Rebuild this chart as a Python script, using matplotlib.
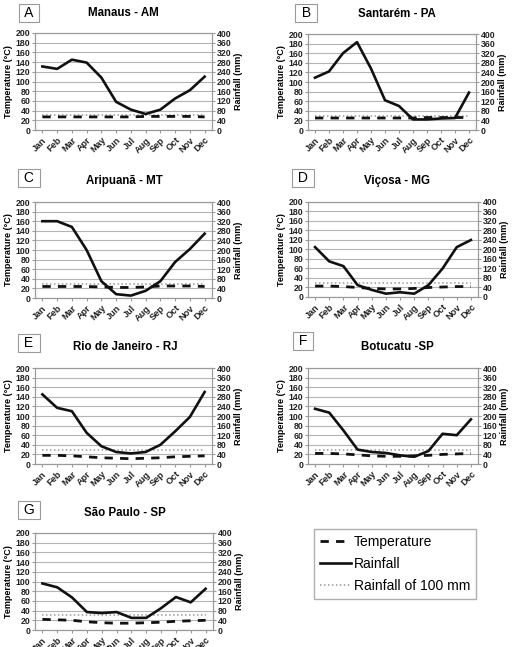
import numpy as np
import matplotlib
matplotlib.use('Agg')
import matplotlib.pyplot as plt

plt.rcParams['font.family'] = ['Liberation Sans', 'DejaVu Sans']

months = ['Jan', 'Feb', 'Mar', 'Apr', 'May', 'Jun', 'Jul', 'Aug', 'Sep', 'Oct', 'Nov', 'Dec']

letters = ['A', 'B', 'C', 'D', 'E', 'F', 'G']
titles = ['Manaus - AM', 'Santarém - PA', 'Aripuanã - MT', 'Viçosa - MG',
          'Rio de Janeiro - RJ', 'Botucatu -SP', 'São Paulo - SP']

# temperature (left axis units)
temp_manaus = [27, 27, 27, 27, 27, 27, 27, 28, 28, 28, 28, 27]
temp_santarem = [25, 25, 25, 25, 25, 25, 25, 25, 26, 26, 26, 26]
temp_aripuana = [24, 24, 24, 24, 23, 22, 22, 23, 25, 25, 25, 24]
temp_vicosa = [23, 23, 22, 20, 18, 17, 17, 18, 20, 21, 22, 22]
temp_rio = [18, 18, 17, 15, 13, 12, 11, 12, 13, 15, 16, 17]
temp_botucatu = [22, 22, 21, 19, 17, 16, 16, 17, 18, 20, 21, 22]
temp_saopaulo = [22, 21, 20, 17, 15, 14, 14, 15, 16, 18, 19, 20]

# rainfall (mm, right axis)
rain_manaus = [262, 252, 290, 278, 216, 116, 84, 66, 84, 130, 164, 220]
rain_santarem = [218, 244, 320, 366, 256, 124, 100, 44, 44, 48, 50, 156]
rain_aripuana = [320, 320, 296, 200, 70, 16, 10, 30, 70, 150, 204, 268]
rain_vicosa = [210, 150, 130, 50, 30, 14, 20, 14, 50, 120, 210, 240]
rain_rio = [290, 234, 220, 130, 74, 50, 44, 50, 80, 136, 196, 300]
rain_botucatu = [230, 214, 140, 60, 50, 46, 36, 30, 54, 126, 120, 186]
rain_saopaulo = [192, 176, 134, 74, 70, 74, 50, 50, 90, 136, 114, 170]

# dotted reference line ("Rainfall of 100 mm"), left axis units
ref_level = 30

temps = [temp_manaus, temp_santarem, temp_aripuana, temp_vicosa, temp_rio, temp_botucatu, temp_saopaulo]
rains = [rain_manaus, rain_santarem, rain_aripuana, rain_vicosa, rain_rio, rain_botucatu, rain_saopaulo]

W, H = 529, 647
# axes boxes in pixels: (x0, x1, ytop, ybottom)
boxes = [(35, 212, 33, 130), (308, 476, 34, 130),
         (35, 212, 202, 298), (308, 478, 202, 297),
         (35, 212, 368, 464), (308, 478, 368, 464),
         (35, 213, 533, 630)]
# centres of the letter boxes, pixels
letter_pos = [(29, 13), (306, 13), (29, 178), (303, 178), (29, 343), (303, 341), (29, 510)]
# title centres, pixels
title_pos = [(123, 13), (397, 14), (124, 181), (397, 181), (125, 347), (397, 347), (125, 513)]

grey = '#9a9a9a'
temp_style = (0, (3.0, 2.6))
ref_style = (0, (1, 1.6))

fig = plt.figure(figsize=(W / 100, H / 100), dpi=100)

x = np.arange(12)
for i in range(7):
    x0, x1, yt, yb = boxes[i]
    ax = fig.add_axes([x0 / W, 1 - yb / H, (x1 - x0) / W, (yb - yt) / H])
    ax.set_xlim(-0.5, 11.5)
    ax.set_ylim(0, 200)
    ax.set_yticks(np.arange(0, 201, 20))
    ax.grid(axis='y', color='#b4b4b4', lw=0.8)
    ax.set_axisbelow(True)
    for s in ax.spines.values():
        s.set_color(grey)
        s.set_linewidth(0.8)
    ax.set_xticks(x)
    ax.set_xticklabels(months, rotation=45, ha='right', va='top', rotation_mode='anchor')
    ax.tick_params(axis='both', length=2, color=grey, labelsize=6.3, pad=1.5)
    ax.tick_params(axis='x', pad=2, labelsize=6.6)
    for lab in ax.get_xticklabels() + ax.get_yticklabels():
        lab.set_fontweight('bold')
        lab.set_color('#222222')
    ax.set_ylabel('Temperature (°C)', fontsize=6.5, fontweight='bold', labelpad=2)

    ax.plot(x, np.full(12, ref_level), color='#999999', lw=1.1, linestyle=ref_style)
    ax.plot(x, temps[i], color='#111111', lw=2.0, linestyle=temp_style)

    ax2 = ax.twinx()
    ax2.set_ylim(0, 400)
    ax2.set_yticks(np.arange(0, 401, 40))
    ax2.tick_params(axis='y', length=2, color=grey, labelsize=6.3, pad=1.5)
    for lab in ax2.get_yticklabels():
        lab.set_fontweight('bold')
        lab.set_color('#222222')
    for s in ax2.spines.values():
        s.set_color(grey)
        s.set_linewidth(0.8)
    ax2.set_ylabel('Rainfall (mm)', fontsize=6.5, fontweight='bold', labelpad=2)
    ax2.plot(x, rains[i], color='#111111', lw=1.9)

    tx, ty = title_pos[i]
    fig.text(tx / W, 1 - ty / H, titles[i], fontsize=8.3, fontweight='bold',
             ha='center', va='center')
    lx, ly = letter_pos[i]
    fig.text(lx / W, 1 - ly / H, ' ' + letters[i] + ' ', fontsize=10,
             ha='center', va='center',
             bbox=dict(boxstyle='square,pad=0.15', fc='white', ec=grey, lw=0.8))

# legend
h1, = plt.plot([], [], color='#111111', lw=2.0, linestyle=temp_style)
h2, = plt.plot([], [], color='#111111', lw=1.9)
h3, = plt.plot([], [], color='#999999', lw=1.1, linestyle=ref_style)
leg = fig.legend([h1, h2, h3], ['Temperature', 'Rainfall', 'Rainfall of 100 mm'],
                 loc='upper left', bbox_to_anchor=(314 / W, 1 - 529 / H),
                 borderaxespad=0, fontsize=10, frameon=True, fancybox=False,
                 edgecolor=grey, handlelength=2.25, handletextpad=0.2,
                 borderpad=0.4, labelspacing=0.6)
leg.get_frame().set_linewidth(1.0)

fig.savefig('out.png', dpi=100)
